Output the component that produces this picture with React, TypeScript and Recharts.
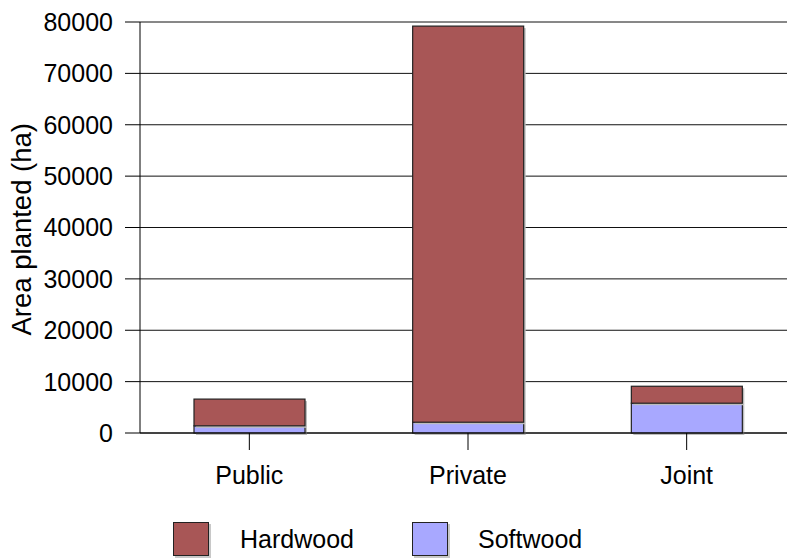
import { BarChart, Bar, XAxis, YAxis, CartesianGrid, Legend } from 'recharts';

const categories = ['Public', 'Private', 'Joint'];
const softwood = [1400, 2100, 5800];
const hardwood = [5200, 77100, 3300];
const yTicks = [0, 10000, 20000, 30000, 40000, 50000, 60000, 70000, 80000];

const HARD = '#A85656';
const SOFT = '#A8A8FF';
const FONT = '"Liberation Sans", Arial, sans-serif';

const data = categories.map((name, i) => ({
  name,
  softwood: softwood[i],
  hardwood: hardwood[i],
}));

function shadowBar(fill: string) {
  return (props: { x?: number; y?: number; width?: number; height?: number }) => {
    const { x = 0, y = 0, width = 0, height = 0 } = props;
    return (
      <g>
        <rect x={x + 2} y={y + 2} width={width} height={height} fill="#bdbdbd" />
        <rect x={x} y={y} width={width} height={height} fill={fill} stroke="#222" strokeWidth={1.2} />
      </g>
    );
  };
}

function renderLegend() {
  const box = (left: number, color: string) => (
    <div
      style={{
        position: 'absolute',
        left,
        top: 22,
        width: 34,
        height: 32,
        background: color,
        border: '1px solid #222',
        boxShadow: '2px 2px 0 #c8c8c8',
      }}
    />
  );
  const label = (left: number, text: string) => (
    <div style={{ position: 'absolute', left, top: 23, fontSize: 25, fontFamily: FONT, color: '#000', lineHeight: '32px' }}>
      {text}
    </div>
  );
  return (
    <div style={{ position: 'relative', height: 60, width: 787 }}>
      {box(173, HARD)}
      {label(240, 'Hardwood')}
      {box(412, SOFT)}
      {label(478, 'Softwood')}
    </div>
  );
}

export default function App() {
  return (
    <div style={{ position: 'absolute', left: 0, top: 0, width: 787, height: 560, overflow: 'hidden', background: '#fff' }}>
      <BarChart
        width={796}
        height={560}
        data={data}
        margin={{ top: 22, right: 0, bottom: 0, left: 0 }}
        barSize={111}
      >
        <CartesianGrid vertical={false} stroke="#111" strokeWidth={1} />
        <XAxis
          dataKey="name"
          height={67}
          stroke="#000"
          tickSize={17}
          tickMargin={16}
          tick={{ fontSize: 25, fontFamily: FONT, fill: '#000' }}
        />
        <YAxis
          width={140}
          domain={[0, 80000]}
          ticks={yTicks}
          interval={0}
          stroke="#000"
          tickSize={15}
          tickMargin={12}
          tick={{ fontSize: 25, fontFamily: FONT, fill: '#000' }}
          label={{
            value: 'Area planted (ha)',
            angle: -90,
            position: 'insideLeft',
            dx: 16,
            dy: 108,
            style: { fontSize: 27.5, fontFamily: FONT, fill: '#000' },
          }}
        />
        <Legend verticalAlign="bottom" wrapperStyle={{ left: 0, width: 787 }} content={renderLegend} />
        <Bar dataKey="softwood" name="Softwood" stackId="a" fill={SOFT} shape={shadowBar(SOFT)} isAnimationActive={false} />
        <Bar dataKey="hardwood" name="Hardwood" stackId="a" fill={HARD} shape={shadowBar(HARD)} isAnimationActive={false} />
      </BarChart>
    </div>
  );
}
